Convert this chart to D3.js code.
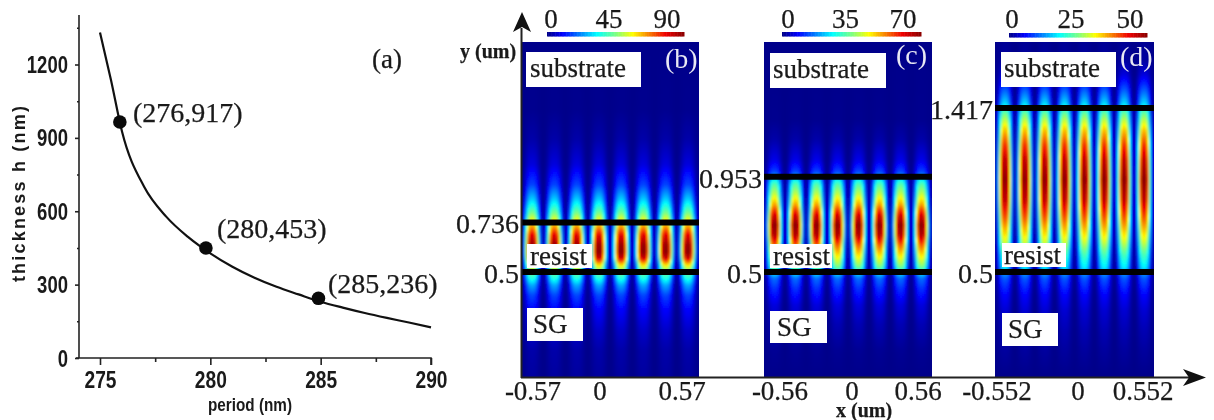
<!DOCTYPE html>
<html>
<head>
<meta charset="utf-8">
<script src="https://cdn.jsdelivr.net/npm/d3@7"></script>
<style>
  html, body { margin: 0; padding: 0; background: #fff; }
  svg { display: block; filter: blur(0.45px); }
  .serif { font-family: "Liberation Serif", "Times New Roman", serif; fill: #1a1a1a; stroke: #1a1a1a; stroke-width: 0.25px; }
  .narrow { font-family: "Liberation Sans", sans-serif; font-weight: bold; fill: #1a1a1a; }
</style>
</head>
<body>
<div id="chart"></div>
<script>
// Panel (a): thickness vs period
var curvePeriod = [275, 275.5, 276, 277, 278, 279, 280, 281, 282, 283, 284, 285, 286, 287, 288, 289, 290];
var curveThick = [1331, 1136, 925, 700, 578, 494, 428, 373, 328, 291, 260, 230, 206, 184, 164, 145, 125];
var markerPeriod = [275.9, 279.8, 284.9];
var markerThick = [965, 450, 244];
var markerLabels = ["(276,917)", "(280,453)", "(285,236)"];
var periodTicks = [275, 280, 285, 290];
var periodMinor = [277.5, 282.5, 287.5];
var thickTicks = [0, 300, 600, 900, 1200];
var thickMinor = [150, 450, 750, 1050, 1350];

// Panels (b)(c)(d): intensity along a lobe centre line
var bProfileY = [1.595, 1.271, 1.129, 1.01, 0.914, 0.843, 0.786, 0.757, 0.71, 0.676, 0.629, 0.595, 0.567, 0.538, 0.51, 0.471, 0.438, 0.39, 0.319, 0.224, 0.129, 0];
var bProfileV = [0, 0.005, 0.03, 0.08, 0.18, 0.32, 0.48, 0.58, 0.74, 0.88, 0.98, 1, 0.92, 0.68, 0.52, 0.4, 0.28, 0.18, 0.11, 0.06, 0.03, 0.02];
var cProfileY = [1.595, 1.224, 1.129, 1.033, 0.976, 0.919, 0.867, 0.819, 0.771, 0.724, 0.676, 0.629, 0.581, 0.533, 0.51, 0.471, 0.414, 0.343, 0.248, 0.129, 0];
var cProfileV = [0, 0.005, 0.03, 0.09, 0.18, 0.45, 0.58, 0.72, 0.9, 1, 0.95, 0.78, 0.65, 0.52, 0.42, 0.22, 0.15, 0.08, 0.04, 0.01, 0];
var dProfileY = [1.786, 1.686, 1.602, 1.518, 1.445, 1.378, 1.294, 1.21, 1.126, 1.015, 0.903, 0.791, 0.679, 0.595, 0.522, 0.471, 0.39, 0.319, 0.224, 0.129, 0];
var dProfileV = [0.01, 0.02, 0.08, 0.2, 0.32, 0.5, 0.68, 0.82, 0.93, 1, 0.93, 0.77, 0.6, 0.44, 0.34, 0.2, 0.11, 0.07, 0.04, 0.02, 0];

// intensity across one period, from lobe centre (0) to gap (0.5)
var crossOffset = [0, 0.05, 0.1, 0.15, 0.2, 0.25, 0.3, 0.35, 0.4, 0.45, 0.5];
var crossValue = [1, 1, 0.97, 0.9, 0.78, 0.62, 0.44, 0.27, 0.13, 0.06, 0.04];

var bColorTicks = [0, 45, 90];
var cColorTicks = [0, 35, 70];
var dColorTicks = [0, 25, 50];

var svgWidth = 1214;
var svgHeight = 420;

var svg = d3.select("#chart")
  .append("svg")
  .attr("width", svgWidth)
  .attr("height", svgHeight);

var defs = svg.append("defs");
defs.append("filter")
  .attr("id", "soft")
  .attr("x", "-5%").attr("y", "-5%").attr("width", "110%").attr("height", "110%")
  .append("feGaussianBlur")
  .attr("stdDeviation", 0.9);

// ---------- panel (a) ----------
var x = d3.scaleLinear().domain([275, 290]).range([100, 431]);
var y = d3.scaleLinear().domain([0, 1200]).range([358, 64.5]);

var xAxis = d3.axisBottom(x).tickValues(periodTicks).tickSize(7).tickFormat(d3.format("d"));
var xMinorAxis = d3.axisBottom(x).tickValues(periodMinor).tickSize(4).tickFormat("");
var yAxis = d3.axisLeft(y).tickValues(thickTicks).tickSize(4).tickFormat(d3.format("d"));
var yMinorAxis = d3.axisLeft(y).tickValues(thickMinor).tickSize(2).tickFormat("");

var gx = svg.append("g").attr("transform", "translate(0,358)").call(xAxis);
svg.append("g").attr("transform", "translate(0,358)").call(xMinorAxis)
  .call(g => g.select(".domain").remove());
var gy = svg.append("g").attr("transform", "translate(79,0)").call(yAxis);
svg.append("g").attr("transform", "translate(79,0)").call(yMinorAxis)
  .call(g => g.select(".domain").remove());

gx.select(".domain").attr("d", "M-24,0H331V7".replace("-24", "76").replace("331", "431"));
gy.select(".domain").attr("d", "M0,15V358");
svg.selectAll("g .domain, g .tick line").attr("stroke", "#222").attr("stroke-width", 1.6);
svg.selectAll("g .tick text").attr("class", "narrow").attr("font-size", 23).attr("lengthAdjust", "spacingAndGlyphs");
gx.selectAll(".tick text").attr("y", 30).attr("dy", 0).attr("textLength", 32);
gy.selectAll(".tick text").attr("x", -11).attr("dy", 8)
  .attr("textLength", d => String(d).length * 10.3);

var line = d3.line().x(d => x(d[0])).y(d => y(d[1])).curve(d3.curveMonotoneX);
svg.append("path")
  .datum(d3.zip(curvePeriod, curveThick))
  .attr("d", line)
  .attr("fill", "none")
  .attr("stroke", "#111")
  .attr("stroke-width", 2.2);

svg.selectAll(".marker")
  .data(d3.zip(markerPeriod, markerThick))
  .enter()
  .append("circle")
  .attr("class", "marker")
  .attr("cx", d => x(d[0]))
  .attr("cy", d => y(d[1]))
  .attr("r", 6.8)
  .attr("fill", "#0a0a0a");

var markerTextX = [133, 217, 328];
var markerTextY = [122, 238, 293];
svg.selectAll(".markerText")
  .data(markerLabels)
  .enter()
  .append("text")
  .attr("class", "serif markerText")
  .attr("x", (d, i) => markerTextX[i])
  .attr("y", (d, i) => markerTextY[i])
  .attr("font-size", 28)
  .text(d => d);

svg.append("text").attr("class", "serif").attr("x", 372).attr("y", 68).attr("font-size", 27).text("(a)");

svg.append("text")
  .attr("class", "narrow")
  .attr("transform", "translate(25,193) rotate(-90)")
  .attr("text-anchor", "middle")
  .attr("font-size", 18)
  .attr("letter-spacing", 2.2)
  .text("thickness h (nm)");

svg.append("text")
  .attr("class", "narrow")
  .attr("x", 208)
  .attr("y", 411)
  .attr("font-size", 18)
  .attr("textLength", 84)
  .attr("lengthAdjust", "spacingAndGlyphs")
  .text("period (nm)");

// ---------- panels (b)(c)(d) ----------
var jet = d3.scaleLinear()
  .domain([0, 0.11, 0.36, 0.5, 0.62, 0.86, 1])
  .range(["#00008a", "#0000ff", "#00ffff", "#80ff80", "#ffff00", "#f00000", "#850000"])
  .clamp(true);

var cross = d3.scaleLinear().domain(crossOffset).range(crossValue);

var panels = [
  { tag: "(b)", left: 521, right: 699, half: 0.57, yTop: 1.595, interfaces: [0.5, 0.736],
    profY: bProfileY, profV: bProfileV, xLabels: ["-0.57", "0", "0.57"], xLabelAt: [533, 600, 682],
    bar: [547, 684], barY: 32, barTicks: bColorTicks, barAt: [551, 667],
    tagPos: [665, 68], subBox: [526, 52, 115, 35], subText: [530, 77],
    resBox: [527, 244, 65, 24], resText: [530, 265], sgBox: [527, 308, 56, 33], sgText: [533, 333] },
  { tag: "(c)", left: 764, right: 932, half: 0.56, yTop: 1.595, interfaces: [0.5, 0.953],
    profY: cProfileY, profV: cProfileV, xLabels: ["-0.56", "0", "0.56"], xLabelAt: [780, 852, 918],
    bar: [782, 921], barY: 32, barTicks: cColorTicks, barAt: [788, 903],
    tagPos: [896, 64], subBox: [770, 53, 116, 35], subText: [773, 78],
    resBox: [770, 244, 62, 24], resText: [773, 265], sgBox: [770, 311, 57, 32], sgText: [777, 336] },
  { tag: "(d)", left: 995, right: 1154, half: 0.552, yTop: 1.786, interfaces: [0.5, 1.417],
    profY: dProfileY, profV: dProfileV, xLabels: ["-0.552", "0", "0.552"], xLabelAt: [997, 1078, 1143],
    bar: [1009, 1147], barY: 33, barTicks: dColorTicks, barAt: [1012, 1130],
    tagPos: [1120, 66], subBox: [1001, 52, 115, 35], subText: [1004, 77],
    resBox: [1002, 243, 64, 24], resText: [1004, 264], sgBox: [1002, 313, 56, 33], sgText: [1008, 338] }
];

var panelTop = 42;
var panelBottom = 377;
var cell = 2;

panels.forEach(function(p, i) {
  var px = d3.scaleLinear().domain([-p.half, p.half]).range([p.left, p.right]);
  var py = d3.scaleLinear().domain([0, 0.5, p.yTop]).range([panelBottom, 272, panelTop]);
  var profile = d3.scaleLinear().domain(p.profY).range(p.profV);
  var period = 2 * p.half / 8;

  defs.append("clipPath").attr("id", "clip" + i)
    .append("rect")
    .attr("x", p.left).attr("y", panelTop)
    .attr("width", p.right - p.left).attr("height", panelBottom - panelTop);

  var cells = [];
  d3.range(p.left - cell, p.right + cell, cell).forEach(function(cx) {
    var um = px.invert(cx + cell / 2);
    var phase = (um + p.half) / period;
    var t = Math.abs(phase - Math.floor(phase) - 0.5);
    var c = cross(t);
    d3.range(panelTop - cell, panelBottom + cell, cell).forEach(function(cy) {
      var v = profile(Math.max(0, Math.min(p.yTop, py.invert(cy + cell / 2))));
      cells.push({ cx: cx, cy: cy, v: v * c });
    });
  });

  var panel = svg.append("g").attr("clip-path", "url(#clip" + i + ")");
  panel.append("g")
    .attr("filter", "url(#soft)")
    .attr("shape-rendering", "crispEdges")
    .selectAll("rect")
    .data(cells)
    .enter()
    .append("rect")
    .attr("x", d => d.cx)
    .attr("y", d => d.cy)
    .attr("width", cell + 0.5)
    .attr("height", cell + 0.5)
    .attr("fill", d => jet(d.v));

  // interface lines
  svg.selectAll(".iface" + i)
    .data(p.interfaces)
    .enter()
    .append("line")
    .attr("x1", p.left)
    .attr("x2", p.right)
    .attr("y1", d => py(d))
    .attr("y2", d => py(d))
    .attr("stroke", "#000")
    .attr("stroke-width", 6);

  svg.selectAll(".ylab" + i)
    .data(p.interfaces)
    .enter()
    .append("text")
    .attr("class", "serif")
    .attr("x", p.left - 2)
    .attr("y", d => py(d) + 11)
    .attr("text-anchor", "end")
    .attr("font-size", 28)
    .text(d => d);

  // white label boxes
  [["substrate", p.subBox, p.subText], ["resist", p.resBox, p.resText], ["SG", p.sgBox, p.sgText]].forEach(function(b) {
    svg.append("rect")
      .attr("x", b[1][0]).attr("y", b[1][1])
      .attr("width", b[1][2]).attr("height", b[1][3])
      .attr("fill", "#fff");
    svg.append("text")
      .attr("class", "serif")
      .attr("x", b[2][0]).attr("y", b[2][1])
      .attr("font-size", 27)
      .text(b[0]);
  });

  svg.append("text")
    .attr("class", "serif")
    .attr("x", p.tagPos[0]).attr("y", p.tagPos[1])
    .attr("font-size", 28)
    .style("fill", "#e8e8f4")
    .style("stroke", "none")
    .text(p.tag);

  // x tick labels
  svg.selectAll(".xlab" + i)
    .data(p.xLabels)
    .enter()
    .append("text")
    .attr("class", "serif")
    .attr("x", (d, k) => p.xLabelAt[k])
    .attr("y", 400)
    .attr("text-anchor", "middle")
    .attr("font-size", 27)
    .text(d => d);

  // colour bar
  var barScale = d3.scaleLinear().domain([0, 1]).range(p.bar);
  var barSteps = d3.range(0, 1, 0.01);
  svg.append("g")
    .selectAll("rect")
    .data(barSteps)
    .enter()
    .append("rect")
    .attr("x", d => barScale(d))
    .attr("y", p.barY)
    .attr("width", (p.bar[1] - p.bar[0]) * 0.01 + 0.5)
    .attr("height", 4.5)
    .attr("fill", d => jet(d));

  var barLabel = d3.scaleLinear().domain([p.barTicks[0], p.barTicks[2]]).range(p.barAt);
  svg.selectAll(".barlab" + i)
    .data(p.barTicks)
    .enter()
    .append("text")
    .attr("class", "serif")
    .attr("x", d => barLabel(d))
    .attr("y", 28)
    .attr("text-anchor", "middle")
    .attr("font-size", 27)
    .text(d => d);
});

// ---------- shared axes with arrow heads ----------
svg.append("line").attr("x1", 521.5).attr("x2", 521.5).attr("y1", 378).attr("y2", 28)
  .attr("stroke", "#222").attr("stroke-width", 2);
svg.append("line").attr("x1", 521).attr("x2", 1190).attr("y1", 377.5).attr("y2", 377.5)
  .attr("stroke", "#222").attr("stroke-width", 2);
svg.append("path").attr("d", "M522,12L531,32L522,27L513,32Z").attr("fill", "#111");
svg.append("path").attr("d", "M1206,377.5L1183,369L1189,377.5L1183,386Z").attr("fill", "#111");

svg.append("text").attr("class", "serif").attr("x", 460).attr("y", 58)
  .attr("font-size", 20).attr("font-weight", "bold").text("y (um)");
svg.append("text").attr("class", "serif").attr("x", 836).attr("y", 417)
  .attr("font-size", 20).attr("font-weight", "bold").text("x (um)");
</script>
</body>
</html>
